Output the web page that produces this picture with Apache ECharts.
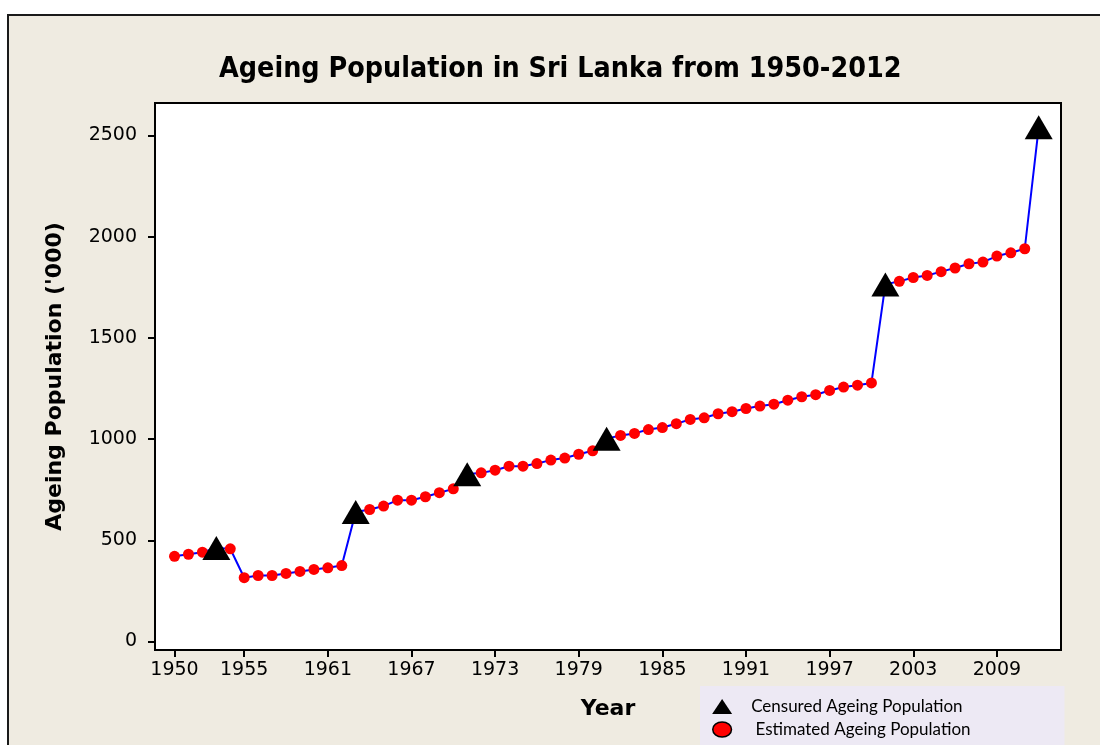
<!DOCTYPE html>
<html>
<head>
<meta charset="utf-8">
<title>Ageing Population in Sri Lanka from 1950-2012</title>
<script src="https://cdn.jsdelivr.net/npm/echarts@6/dist/echarts.min.js"></script>
<style>
  html, body { margin: 0; padding: 0; background: #ffffff; }
  #chart { width: 1100px; height: 745px; }
</style>
</head>
<body>
<div id="chart"></div>
<script>
// Years covered by the series
const years = [
  1950, 1951, 1952, 1953, 1954, 1955, 1956, 1957, 1958, 1959,
  1960, 1961, 1962, 1963, 1964, 1965, 1966, 1967, 1968, 1969,
  1970, 1971, 1972, 1973, 1974, 1975, 1976, 1977, 1978, 1979,
  1980, 1981, 1982, 1983, 1984, 1985, 1986, 1987, 1988, 1989,
  1990, 1991, 1992, 1993, 1994, 1995, 1996, 1997, 1998, 1999,
  2000, 2001, 2002, 2003, 2004, 2005, 2006, 2007, 2008, 2009,
  2010, 2011, 2012
];

// Ageing population ('000), one value per year
const population = [
  421, 431, 441, 462, 458, 315, 326, 326, 336, 346,
  356, 364, 375, 640, 652, 669, 698, 698, 715, 735,
  754, 826, 833, 846, 866, 866, 879, 896, 906, 925,
  942, 1002, 1018, 1028, 1047, 1057, 1076, 1097, 1105, 1125,
  1135, 1151, 1163, 1172, 1192, 1209, 1219, 1240, 1257, 1266,
  1277, 1764, 1779, 1798, 1808, 1827, 1845, 1866, 1874, 1904,
  1920, 1940, 2540
];

// Census years (the remaining years are estimates)
const censusYears = [1953, 1963, 1971, 1981, 2001, 2012];

// Axis tick positions
const xTickYears = [1950, 1955, 1961, 1967, 1973, 1979, 1985, 1991, 1997, 2003, 2009];
const yTicks = [0, 500, 1000, 1500, 2000, 2500];

const allPoints = years.map((y, i) => [y, population[i]]);
const censusPoints = allPoints.filter(p => censusYears.includes(p[0]));
const estimatedPoints = allPoints.filter(p => !censusYears.includes(p[0]));

const tickFont = { fontFamily: 'DejaVu Sans', fontSize: 19, color: '#000' };
const plainNumber = v => String(v);
const ellipseIcon = 'path://M0,8 A10,8 0 1,0 20,8 A10,8 0 1,0 0,8 Z';

const chart = echarts.init(document.getElementById('chart'), null, { renderer: 'canvas' });

chart.setOption({
  animation: false,
  backgroundColor: '#ffffff',
  graphic: [{
    type: 'rect',
    z: -100,
    shape: { x: 8, y: 15, width: 1200, height: 800 },
    style: { fill: '#EFEBE1', stroke: '#1a1a1a', lineWidth: 2 }
  }],
  title: {
    text: 'Ageing Population in Sri Lanka from 1950-2012',
    left: 214,
    top: 51,
    textStyle: {
      fontFamily: "'DejaVu Sans Condensed', 'DejaVu Sans'",
      fontWeight: 'bold',
      fontSize: 28.4,
      color: '#000'
    }
  },
  grid: {
    left: 155, right: 39, top: 103, bottom: 95,
    show: true,
    backgroundColor: '#ffffff',
    borderColor: '#000',
    borderWidth: 2
  },
  xAxis: {
    type: 'value',
    min: 1948.6,
    max: 2013.6,
    name: 'Year',
    nameLocation: 'middle',
    nameGap: 48,
    nameTextStyle: { fontFamily: 'DejaVu Sans', fontWeight: 'bold', fontSize: 22, color: '#000' },
    splitLine: { show: false },
    axisLine: { show: true, onZero: false, lineStyle: { color: '#000', width: 2 } },
    axisTick: { show: true, length: 7, customValues: xTickYears, lineStyle: { color: '#000', width: 2 } },
    axisLabel: Object.assign({ customValues: xTickYears, margin: 11, formatter: plainNumber }, tickFont)
  },
  yAxis: {
    type: 'value',
    min: -42,
    max: 2660,
    name: "Ageing Population ('000)",
    nameLocation: 'middle',
    nameGap: 89,
    nameTextStyle: { fontFamily: 'DejaVu Sans', fontWeight: 'bold', fontSize: 22, color: '#000' },
    splitLine: { show: false },
    axisLine: { show: true, onZero: false, lineStyle: { color: '#000', width: 2 } },
    axisTick: { show: true, length: 7, customValues: yTicks, lineStyle: { color: '#000', width: 2 } },
    axisLabel: Object.assign({ customValues: yTicks, margin: 18, formatter: plainNumber }, tickFont)
  },
  legend: {
    orient: 'vertical',
    left: 700,
    top: 686,
    height: 120,
    backgroundColor: '#EDE9F4',
    padding: [11, 94, 20, 12],
    itemGap: 4,
    itemWidth: 20,
    itemHeight: 15,
    textStyle: { fontFamily: 'Lato', fontSize: 17, lineHeight: 19, color: '#000', padding: [0, 0, 0, 14] },
    formatter: name => name.startsWith('Estimated') ? ' ' + name : name,
    data: [
      { name: 'Censured Ageing Population', icon: 'triangle', itemStyle: { color: '#000' } },
      { name: 'Estimated Ageing Population', icon: ellipseIcon,
        itemStyle: { color: '#ff0000', borderColor: '#000', borderWidth: 1.5 } }
    ]
  },
  series: [
    {
      name: 'Population',
      type: 'line',
      data: allPoints,
      showSymbol: false,
      symbol: 'none',
      lineStyle: { color: '#0000ff', width: 2 },
      z: 1
    },
    {
      name: 'Estimated Ageing Population',
      type: 'scatter',
      data: estimatedPoints,
      symbol: 'circle',
      symbolSize: 11,
      itemStyle: { color: '#ff0000', opacity: 1 },
      z: 2
    },
    {
      name: 'Censured Ageing Population',
      type: 'scatter',
      data: censusPoints,
      symbol: 'triangle',
      symbolSize: [28, 24],
      itemStyle: { color: '#000', opacity: 1 },
      z: 3
    }
  ]
});
</script>
</body>
</html>
